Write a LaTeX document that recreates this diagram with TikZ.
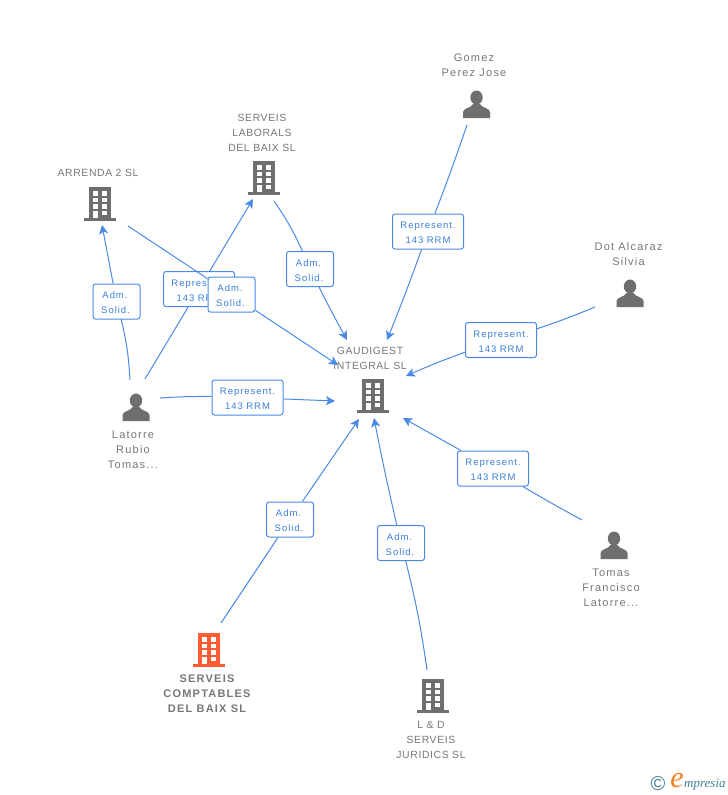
\documentclass[tikz,border=0pt]{standalone}
\usepackage{fontspec}
\setmainfont{Liberation Sans}
\newfontfamily\lblfont[LetterSpace=6]{Liberation Sans}
\newfontfamily\mixfont[LetterSpace=11]{Liberation Sans}
\newfontfamily\boxfont[LetterSpace=10]{Liberation Sans}
\newfontfamily\wmfont{Liberation Serif}
\usetikzlibrary{arrows.meta}
\definecolor{icongray}{HTML}{6F6F6F}
\definecolor{textgray}{HTML}{777777}
\definecolor{linkblue}{HTML}{4A8AE6}
\definecolor{boxtext}{HTML}{3B7FDC}
\definecolor{orangered}{HTML}{FF5C33}
\definecolor{wmteal}{HTML}{3F7F96}
\definecolor{wmorange}{HTML}{F58220}
\newcommand{\rl}[1]{\raisebox{-1.5pt}[\height][\depth]{#1}}
\newcommand{\repText}{\rl{Represent.}\\\rl{143 RRM}}
\newcommand{\admText}{\rl{Adm.\hspace*{3pt}}\\\rl{Solid.\hspace*{2pt}}}
\tikzset{
  x=1pt,y=-1pt,
  link/.style={draw=linkblue,line width=1pt},
  linkarrow/.style={link,-{Stealth[length=9pt,width=9pt,inset=2.2pt]}},
  relbox/.style={draw=linkblue,line width=1pt,fill=white,rounded corners=2.5pt,align=center,
    text=boxtext,font=\boxfont\fontsize{9.5}{15}\selectfont,inner sep=0pt},
  admbox/.style={relbox,minimum width=47pt,minimum height=35pt},
  repbox/.style={relbox,minimum width=71pt,minimum height=35pt},
  lbl/.style={align=center,text=textgray,font=\lblfont\fontsize{10.4}{15}\selectfont,inner sep=0pt},
  mixlbl/.style={align=center,text=textgray,font=\mixfont\fontsize{11}{15}\selectfont,inner sep=0pt},
  boldlbl/.style={align=center,text=textgray,font=\mixfont\bfseries\fontsize{11}{15}\selectfont,inner sep=0pt},
  pics/building/.style={code={
    \fill[#1] (-11,-17) rectangle (11,14);
    \fill[#1] (-16,14) rectangle (16,17);
    \foreach \wy in {-12.7,-6.2,0.3,6.8}{
      \fill[white] (2.3,\wy) rectangle (7.3,\wy+4.4);
    }
    \foreach \wy in {-12.7,-6.2,0.3}{
      \fill[white] (-7.3,\wy) rectangle (-2.3,\wy+4.4);
    }
    \fill[white] (-7.3,6.8) rectangle (-2.3,14);
  }},
  pics/person/.style={code={
    \fill[icongray] (0,-7.5) ellipse (6.2 and 7);
    \fill[icongray] (-13.5,13) -- (-13.5,7) .. controls (-13.5,3) and (-5,3) .. (-3.5,-1) -- (3.5,-1)
      .. controls (5,3) and (13.5,3) .. (13.5,7) -- (13.5,13) -- cycle;
  }},
}
\begin{document}
\begin{tikzpicture}
\useasboundingbox (0,0) rectangle (728,795);
\fill[white] (0,0) rectangle (728,795);

% anchors of the free ends
\coordinate (gomezS) at (467,125);
\coordinate (dotS) at (595,307);
\coordinate (tomasS) at (582,520);
\coordinate (ldS) at (427,670);
\coordinate (compS) at (221,623);
\coordinate (latR) at (160,398);
\coordinate (latA) at (130,380);
\coordinate (latB) at (145,379);
\coordinate (arrS) at (128,226);
\coordinate (labS) at (274,201);
\coordinate (tGomez) at (387,340);
\coordinate (tDot) at (406,376);
\coordinate (tTomas) at (403,418);
\coordinate (tLd) at (374,418);
\coordinate (tComp) at (359,419);
\coordinate (tLat) at (335,401);
\coordinate (tArr) at (102,225);
\coordinate (tLab) at (253,199);
\coordinate (tArrG) at (338,365);
\coordinate (tLabG) at (347,340);

% icons
\pic at (373,396) {building={icongray}};
\pic at (100,204) {building={icongray}};
\pic at (264,178) {building={icongray}};
\pic at (433,696) {building={icongray}};
\pic at (209,650) {building={orangered}};
\pic at (476.5,105) {person};
\pic at (630,294) {person};
\pic at (136,408) {person};
\pic at (614,546) {person};

% labels
\node[mixlbl] (gomez) at (474,65) {Gomez\\Perez Jose};
\node[mixlbl] (dot) at (628.5,254) {Dot Alcaraz\\ Silvia};
\node[lbl] (laborals) at (262,133) {SERVEIS\\LABORALS\\DEL BAIX SL};
\node[lbl] (arrenda) at (98,173) {ARRENDA 2 SL};
\node[lbl] (gaudi) at (370,358) {GAUDIGEST\\INTEGRAL SL};
\node[mixlbl] (latorre) at (133,450) {Latorre\\Rubio\\Tomas...};
\node[mixlbl] (tomas) at (611,588) {Tomas\\Francisco\\Latorre...};
\node[boldlbl] (comptables) at (207,694) {SERVEIS\\COMPTABLES\\DEL BAIX SL};
\node[lbl] (ld) at (431,740) {L \& D\\SERVEIS\\JURIDICS SL};

% relations
\node[repbox] (r1) at (428,231.5) {\repText};
\draw[link] (gomezS) to[bend left=1] (r1);
\draw[linkarrow] (r1) to[bend left=1] (tGomez);

\node[repbox] (r2) at (501,340) {\repText};
\draw[link] (dotS) to[bend left=2] (r2);
\draw[linkarrow] (r2) to[bend right=2] (tDot);

\node[repbox] (r3) at (493,468.5) {\repText};
\draw[link] (tomasS) to[bend left=1] (r3);
\draw[linkarrow] (r3) to (tTomas);

\node[admbox] (a4) at (401,543) {\admText};
\draw[link] (ldS) to[bend right=3] (a4);
\draw[linkarrow] (a4) to[bend left=1] (tLd);

\node[admbox] (a5) at (290,519.5) {\admText};
\draw[link] (compS) to (a5);
\draw[linkarrow] (a5) to (tComp);

\node[repbox] (r6) at (247.5,397.5) {\repText};
\draw[link] (latR) to[bend left=2] (r6);
\draw[linkarrow] (r6) to (tLat);

\node[admbox] (a7) at (116.5,301.5) {\admText};
\draw[link] (latA) to[bend right=5] (a7);
\draw[linkarrow] (a7) to (tArr);

\node[repbox] (r8) at (199,289) {\repText};
\draw[link] (latB) to (r8);
\draw[linkarrow] (r8) to (tLab);

\node[admbox] (a9) at (231.5,294.5) {\admText};
\draw[link] (arrS) to (a9);
\draw[linkarrow] (a9) to (tArrG);

\node[admbox] (a10) at (310,269) {\admText};
\draw[link] (labS) to[bend left=5] (a10);
\draw[linkarrow] (a10) to[bend right=1] (tLabG);

% watermark
\node[text=wmteal,font=\fontsize{20}{20}\selectfont,inner sep=0pt] (wmc) at (658,784) {\char"00A9};
\node[text=wmorange,font=\wmfont\itshape\fontsize{30}{30}\selectfont,inner sep=0pt] (wme) at (677,781) {e};
\node[anchor=west,text=wmteal,font=\wmfont\itshape\fontsize{13}{13}\selectfont,inner sep=0pt] (wmt) at (684,785) {mpresia};
\end{tikzpicture}
\end{document}
